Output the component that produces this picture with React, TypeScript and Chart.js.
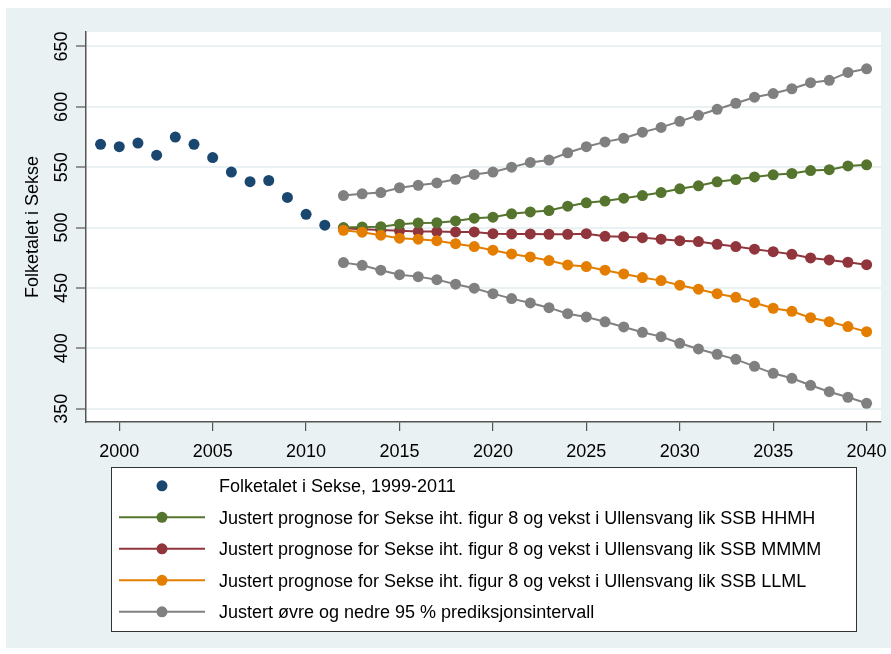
import React, { useEffect, useRef } from "react";
import { Chart, registerables } from "chart.js";

Chart.register(...registerables);

const histYears = [1999, 2000, 2001, 2002, 2003, 2004, 2005, 2006, 2007, 2008, 2009, 2010, 2011];
const histValues = [569, 567, 570, 560, 575, 569, 558, 546, 538, 539, 525, 511, 502];

const projYears = [
  2012, 2013, 2014, 2015, 2016, 2017, 2018, 2019, 2020, 2021, 2022, 2023, 2024, 2025, 2026,
  2027, 2028, 2029, 2030, 2031, 2032, 2033, 2034, 2035, 2036, 2037, 2038, 2039, 2040,
];
const hhmh = [
  500, 500.6, 500.8, 502.8, 503.9, 504.1, 505.5, 507.8, 508.6, 511.4, 513, 514.1, 517.7, 520.5, 522,
  524.4, 526.5, 529, 532.1, 534.6, 537.9, 539.8, 542, 543.7, 544.8, 547.2, 548, 551.1, 552,
];
const mmmm = [
  499.5, 498.7, 498, 497.3, 496.7, 496.7, 496.4, 496.4, 495, 494.8, 494.8, 494.5, 494.5, 495, 492.8,
  492.5, 491.7, 490.4, 489.2, 488.4, 486.2, 484.3, 482.1, 480.1, 477.9, 474.9, 473.2, 471.3, 469.3,
];
const llml = [
  497.8, 496.2, 493.7, 491.2, 490.4, 489.2, 486.7, 484.3, 481.3, 478.2, 475.7, 472.7, 469.1, 467.7, 464.7,
  461.6, 458.6, 456.1, 452.3, 449, 445.3, 442.3, 437.8, 433.2, 430.7, 425.4, 422.1, 418, 413.8,
];
const upper95 = [
  526.5, 528, 529, 533, 535, 537, 540, 544, 546, 550, 554, 556, 562, 567, 571,
  574, 579, 583, 588, 593, 598, 603, 608, 611, 615, 620, 622, 628.5, 631.5,
];
const lower95 = [
  471, 468.8, 464.7, 461, 459.4, 456.9, 453.1, 449.8, 445.3, 441.2, 437.6, 433.7, 428.7, 426, 422,
  417.7, 413.3, 409.7, 404.2, 399.5, 395.1, 390.9, 385.1, 379.3, 375.2, 369.4, 364.1, 359.5, 354.5,
];

const xTicks = [2000, 2005, 2010, 2015, 2020, 2025, 2030, 2035, 2040];
const yTicks = [350, 400, 450, 500, 550, 600, 650];

const yTitle = "Folketalet i Sekse";
const legendLabels = [
  "Folketalet i Sekse, 1999-2011",
  "Justert prognose for Sekse iht. figur 8 og vekst i Ullensvang lik SSB HHMH",
  "Justert prognose for Sekse iht. figur 8 og vekst i Ullensvang lik SSB MMMM",
  "Justert prognose for Sekse iht. figur 8 og vekst i Ullensvang lik SSB LLML",
  "Justert øvre og nedre 95 % prediksjonsintervall",
];

const NAVY = "#1a476f";
const GREEN = "#55752f";
const MAROON = "#90353b";
const ORANGE = "#e37e00";
const GRAY = "#808080";
const BG = "#eaf1f3";
const AXIS = "#555555";
const FONT = "'Liberation Sans', Arial, sans-serif";

const legendItems = [
  { color: NAVY, line: false },
  { color: GREEN, line: true },
  { color: MAROON, line: true },
  { color: ORANGE, line: true },
  { color: GRAY, line: true },
];

const pts = (xs: number[], ys: number[]) => xs.map((x, i) => ({ x, y: ys[i] }));

const decorPlugin = {
  id: "decor",
  beforeDraw(chart: any) {
    const { ctx, chartArea: a, width, height } = chart;
    ctx.save();
    ctx.fillStyle = "#ffffff";
    ctx.fillRect(0, 0, width, height);
    ctx.fillStyle = BG;
    ctx.fillRect(6, 8, width - 6, 640);
    ctx.fillStyle = "#ffffff";
    ctx.fillRect(a.left, a.top, a.right - a.left, a.bottom - a.top);
    ctx.restore();
  },
  afterDraw(chart: any) {
    const { ctx, chartArea: a } = chart;
    const ys = chart.scales.y;
    ctx.save();
    ctx.fillStyle = "#000";
    ctx.font = `18px ${FONT}`;
    ctx.textAlign = "center";
    ctx.textBaseline = "alphabetic";
    yTicks.forEach((v) => {
      const y = ys.getPixelForValue(v);
      ctx.save();
      ctx.translate(67, y);
      ctx.rotate(-Math.PI / 2);
      ctx.fillText(String(v), 0, 0);
      ctx.restore();
    });
    ctx.save();
    ctx.translate(37.5, (a.top + a.bottom) / 2);
    ctx.rotate(-Math.PI / 2);
    ctx.fillText(yTitle, 0, 0);
    ctx.restore();

    const bx = 111, by = 467, bw = 745, bh = 164;
    ctx.fillStyle = "#ffffff";
    ctx.fillRect(bx, by, bw, bh);
    ctx.strokeStyle = "#333333";
    ctx.lineWidth = 1;
    ctx.strokeRect(bx + 0.5, by + 0.5, bw, bh);
    ctx.font = `18px ${FONT}`;
    ctx.textAlign = "left";
    ctx.textBaseline = "alphabetic";
    legendItems.forEach((it, i) => {
      const cy = 485.8 + i * 31.5;
      if (it.line) {
        ctx.strokeStyle = it.color;
        ctx.lineWidth = 2;
        ctx.beginPath();
        ctx.moveTo(119, cy);
        ctx.lineTo(205, cy);
        ctx.stroke();
      }
      ctx.fillStyle = it.color;
      ctx.beginPath();
      ctx.arc(162, cy, 5.5, 0, Math.PI * 2);
      ctx.fill();
      ctx.fillStyle = "#000";
      ctx.fillText(legendLabels[i], 219, cy + 6.5);
    });
    ctx.restore();
  },
};

export default function App() {
  const ref = useRef<HTMLCanvasElement>(null);
  useEffect(() => {
    if (!ref.current) return;
    const lineDs = (data: any, color: string, order: number) => ({
      data,
      borderColor: color,
      backgroundColor: color,
      pointBackgroundColor: color,
      pointBorderWidth: 0,
      pointRadius: 5.5,
      borderWidth: 2,
      showLine: true,
      order,
    });
    const chart = new Chart(ref.current, {
      type: "line",
      data: {
        datasets: [
          { ...lineDs(pts(histYears, histValues), NAVY, 0), showLine: false },
          lineDs(pts(projYears, llml), ORANGE, 1),
          lineDs(pts(projYears, hhmh), GREEN, 2),
          lineDs(pts(projYears, mmmm), MAROON, 3),
          lineDs(pts(projYears, upper95), GRAY, 4),
          lineDs(pts(projYears, lower95), GRAY, 5),
        ],
      },
      options: {
        animation: false,
        responsive: false,
        events: [],
        layout: { autoPadding: false, padding: { top: 32, right: 10, bottom: 192, left: 0 } },
        plugins: { legend: { display: false }, tooltip: { enabled: false } },
        scales: {
          x: {
            type: "linear",
            min: 1998.22,
            max: 2040.77,
            afterBuildTicks: (s: any) => {
              s.ticks = xTicks.map((v) => ({ value: v }));
            },
            afterFit: (s: any) => {
              s.height = 40;
            },
            border: { color: AXIS, width: 1.5 },
            grid: { drawOnChartArea: false, tickColor: AXIS, tickLength: 9, lineWidth: 1.2 },
            ticks: {
              color: "#000",
              font: { family: FONT, size: 18, lineHeight: 1.85 },
              padding: 4,
              maxRotation: 0,
              minRotation: 0,
              callback: (v: any) => String(v),
            },
          },
          y: {
            type: "linear",
            min: 339,
            max: 662,
            afterBuildTicks: (s: any) => {
              s.ticks = yTicks.map((v) => ({ value: v }));
            },
            afterFit: (s: any) => {
              s.width = 86;
            },
            border: { color: AXIS, width: 1.5 },
            grid: { color: BG, lineWidth: 2, tickColor: AXIS, tickLength: 10, tickWidth: 1.2 },
            ticks: { display: false },
          },
        },
      },
      plugins: [decorPlugin],
    });
    return () => chart.destroy();
  }, []);
  return (
    <div style={{ position: "fixed", left: 0, top: 0, width: 891, height: 654 }}>
      <canvas ref={ref} width={891} height={654} style={{ display: "block" }} />
    </div>
  );
}
